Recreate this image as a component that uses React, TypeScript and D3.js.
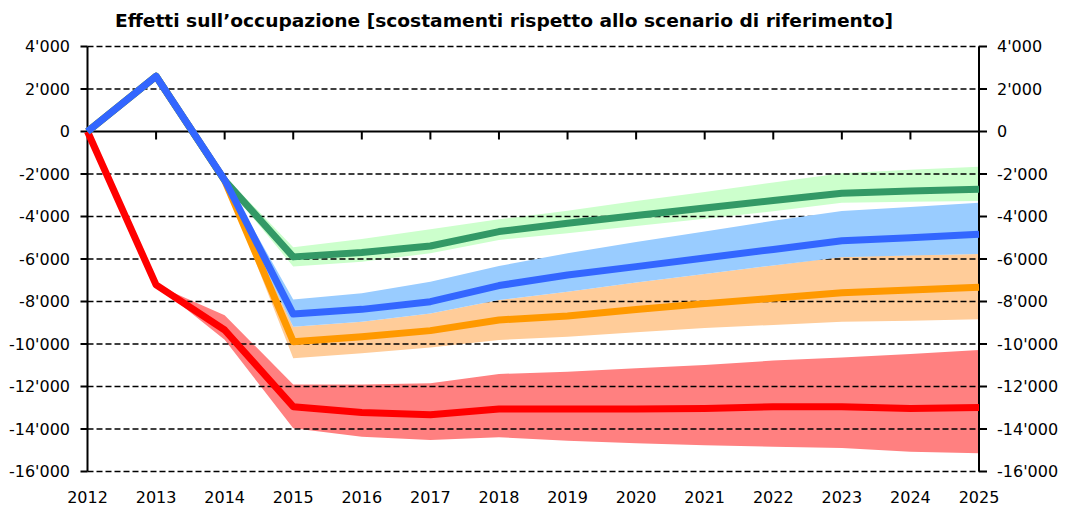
import React, { useEffect, useRef } from "react";
import * as d3 from "d3";

const years = [2012, 2013, 2014, 2015, 2016, 2017, 2018, 2019, 2020, 2021, 2022, 2023, 2024, 2025];
const yTicks = [4000, 2000, 0, -2000, -4000, -6000, -8000, -10000, -12000, -14000, -16000];

const greenMid = [0, 2600, -2300, -5900, -5690, -5390, -4710, -4320, -3950, -3600, -3250, -2910, -2800, -2720];
const greenHi = [0, 2600, -2100, -5450, -5060, -4600, -4130, -3730, -3270, -2850, -2400, -1970, -1800, -1660];
const greenLo = [0, 2600, -2450, -6350, -6130, -5730, -5100, -4790, -4450, -4100, -3750, -3350, -3300, -3270];

const blueMid = [0, 2600, -2280, -8590, -8370, -8010, -7250, -6750, -6360, -5950, -5550, -5140, -5000, -4840];
const blueHi = [0, 2600, -2200, -7900, -7610, -7070, -6330, -5730, -5200, -4700, -4200, -3740, -3550, -3350];
const blueLo = [0, 2600, -2450, -9190, -8950, -8560, -7930, -7540, -7100, -6700, -6300, -5920, -5840, -5760];

const orangeMid = [0, 2600, -2300, -9890, -9660, -9370, -8870, -8680, -8380, -8100, -7850, -7590, -7460, -7330];
const orangeHi = [0, 2600, -2300, -9190, -8950, -8560, -7930, -7540, -7100, -6700, -6300, -5890, -5820, -5760];
const orangeLo = [0, 2600, -2400, -10670, -10440, -10160, -9810, -9660, -9450, -9250, -9100, -8950, -8900, -8840];

const redMid = [0, -7220, -9340, -12950, -13220, -13330, -13060, -13060, -13060, -13030, -12950, -12950, -13030, -12990];
const redHi = [0, -7220, -8650, -11900, -11900, -11850, -11410, -11300, -11140, -10990, -10780, -10630, -10470, -10280];
const redLo = [0, -7220, -9800, -13970, -14360, -14520, -14390, -14550, -14670, -14770, -14830, -14890, -15070, -15140];

const title = "Effetti sull’occupazione [scostamenti rispetto allo scenario di riferimento]";

const W = 1067;
const H = 511;
const FONT = "'DejaVu Sans', Verdana, sans-serif";

const Chart: React.FC = () => {
  const svgRef = useRef<SVGSVGElement | null>(null);

  useEffect(() => {
    const svg = d3.select(svgRef.current);
    svg.selectAll("*").remove();

    const x = d3.scaleLinear().domain([2012, 2025]).range([87.5, 979]);
    const y = d3.scaleLinear().domain([-16000, 4000]).range([471.5, 46.5]);

    const fmt = (v: number) => d3.format(",")(v).replace(/,/g, "'").replace("−", "-");

    const area = (hi: number[], lo: number[]) =>
      d3
        .area<number>()
        .x((_, i) => x(years[i]))
        .y0((_, i) => y(lo[i]))
        .y1((_, i) => y(hi[i]))(years);

    const line = (vals: number[]) =>
      d3
        .line<number>()
        .x((_, i) => x(years[i]))
        .y((_, i) => y(vals[i]))(years);

    // bands under the gridlines
    svg.append("path").attr("d", area(redHi, redLo)).attr("fill", "#ff8080");
    svg.append("path").attr("d", area(orangeHi, orangeLo)).attr("fill", "#ffcc99");
    svg.append("path").attr("d", area(greenHi, greenLo)).attr("fill", "#ccffcc");

    // dashed gridlines
    yTicks
      .filter((t) => t !== 0)
      .forEach((t) => {
        svg
          .append("line")
          .attr("x1", x(2012))
          .attr("x2", x(2025))
          .attr("y1", y(t))
          .attr("y2", y(t))
          .attr("stroke", "#000")
          .attr("stroke-width", 1.3)
          .attr("stroke-dasharray", "6,3");
      });

    // blue band sits above the gridlines
    svg.append("path").attr("d", area(blueHi, blueLo)).attr("fill", "#99ccff");

    // axes
    const axisG = svg.append("g").attr("stroke", "#000");
    axisG
      .append("line")
      .attr("x1", x(2012))
      .attr("x2", x(2025))
      .attr("y1", y(0))
      .attr("y2", y(0))
      .attr("stroke-width", 2);
    [2012, 2025].forEach((yr) => {
      axisG
        .append("line")
        .attr("x1", x(yr))
        .attr("x2", x(yr))
        .attr("y1", y(4000))
        .attr("y2", y(-16000))
        .attr("stroke-width", 2);
    });
    years.slice(1, -1).forEach((yr) => {
      axisG
        .append("line")
        .attr("x1", x(yr))
        .attr("x2", x(yr))
        .attr("y1", y(0))
        .attr("y2", y(0) + 8)
        .attr("stroke-width", 2);
    });
    yTicks.forEach((t) => {
      axisG
        .append("line")
        .attr("x1", x(2012) - 7)
        .attr("x2", x(2012))
        .attr("y1", y(t))
        .attr("y2", y(t))
        .attr("stroke-width", 2);
      axisG
        .append("line")
        .attr("x1", x(2025))
        .attr("x2", x(2025) + 8)
        .attr("y1", y(t))
        .attr("y2", y(t))
        .attr("stroke-width", 2);
    });

    // lines
    const series: [number[], string][] = [
      [redMid, "#ff0000"],
      [orangeMid, "#ff9900"],
      [greenMid, "#339966"],
      [blueMid, "#3366ff"],
    ];
    series.forEach(([vals, col]) => {
      svg
        .append("path")
        .attr("d", line(vals))
        .attr("fill", "none")
        .attr("stroke", col)
        .attr("stroke-width", 7)
        .attr("stroke-linejoin", "round");
    });

    // tick labels
    const lbl = svg.append("g").attr("font-family", FONT).attr("font-size", 16).attr("fill", "#000");
    yTicks.forEach((t) => {
      lbl
        .append("text")
        .attr("x", 70)
        .attr("y", y(t))
        .attr("dy", "0.36em")
        .attr("text-anchor", "end")
        .text(fmt(t));
      lbl
        .append("text")
        .attr("x", 997)
        .attr("y", y(t))
        .attr("dy", "0.36em")
        .attr("text-anchor", "start")
        .text(fmt(t));
    });
    years.forEach((yr) => {
      lbl
        .append("text")
        .attr("x", x(yr))
        .attr("y", 503)
        .attr("text-anchor", "middle")
        .text(String(yr));
    });

    // title
    svg
      .append("text")
      .attr("x", 115)
      .attr("y", 27)
      .attr("font-family", FONT)
      .attr("font-weight", "bold")
      .attr("font-size", 18)
      .attr("textLength", 778)
      .attr("lengthAdjust", "spacingAndGlyphs")
      .text(title);
  }, []);

  return <svg ref={svgRef} width={W} height={H} style={{ position: "absolute", left: 0, top: 0, background: "#fff" }} />;
};

export default function App() {
  return <Chart />;
}
